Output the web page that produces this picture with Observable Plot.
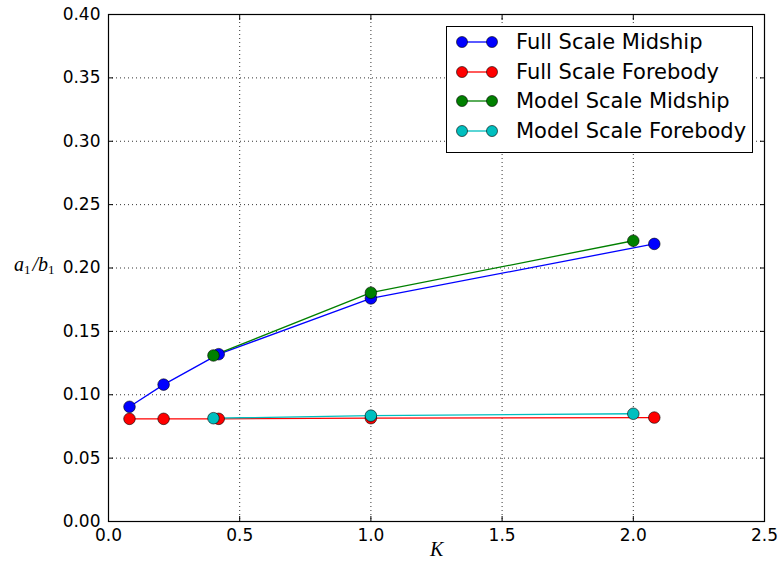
<!DOCTYPE html>
<html>
<head>
<meta charset="utf-8">
<script src="https://cdn.jsdelivr.net/npm/d3@7"></script>
<script src="https://cdn.jsdelivr.net/npm/@observablehq/plot@0.6"></script>
<style>
  html, body { margin: 0; padding: 0; background: white; }
  #wrap { position: relative; width: 781px; height: 567px; }
  .lbl { position: absolute; font-family: "Liberation Serif", "DejaVu Serif", serif; font-style: italic; font-size: 20px; color: black; }
  .lbl sub { font-size: 13px; font-style: normal; vertical-align: -3px; margin-right: 2px; }
  #legend { position: absolute; left: 446px; top: 26px; width: 307px; height: 127px; border: 1.5px solid black; background: white; box-sizing: border-box; }
  .row { position: absolute; left: 0; height: 30px; display: flex; align-items: center; font-family: "DejaVu Sans", sans-serif; font-size: 21px; color: black; }
  .row svg { margin-left: 8px; margin-right: 17px; }
</style>
</head>
<body>
<div id="wrap"></div>
<script>
// ---- data ----
const fsK = [0.08, 0.21, 0.42, 1.0, 2.08];
const fsMid = [0.0905, 0.108, 0.132, 0.176, 0.219];
const fsFore = [0.081, 0.081, 0.081, 0.0815, 0.082];
const msK = [0.40, 1.0, 2.0];
const msMid = [0.131, 0.1805, 0.2215];
const msFore = [0.0815, 0.0835, 0.085];
const seriesNames = ["Full Scale Midship", "Full Scale Forebody", "Model Scale Midship", "Model Scale Forebody"];
const seriesColors = ["#0000ff", "#ff0000", "#008000", "#00bfbf"];
const xTicks = [0, 0.5, 1.0, 1.5, 2.0, 2.5];
const yTicks = [0, 0.05, 0.10, 0.15, 0.20, 0.25, 0.30, 0.35, 0.40];

const rows = [];
fsK.forEach((k, i) => rows.push({s: seriesNames[0], k, v: fsMid[i]}));
fsK.forEach((k, i) => rows.push({s: seriesNames[1], k, v: fsFore[i]}));
msK.forEach((k, i) => rows.push({s: seriesNames[2], k, v: msMid[i]}));
msK.forEach((k, i) => rows.push({s: seriesNames[3], k, v: msFore[i]}));

const chart = Plot.plot({
  width: 781, height: 567,
  marginLeft: 108, marginRight: 17, marginTop: 14, marginBottom: 46,
  x: {domain: [0, 2.5]},
  y: {domain: [0, 0.4]},
  color: {domain: seriesNames, range: seriesColors},
  style: {fontFamily: "DejaVu Sans", fontSize: "17px", color: "black", background: "white", overflow: "visible"},
  marks: [
    Plot.gridX(xTicks, {stroke: "black", strokeOpacity: 0.8, strokeDasharray: "1,3", strokeWidth: 1}),
    Plot.gridY(yTicks, {stroke: "black", strokeOpacity: 0.8, strokeDasharray: "1,3", strokeWidth: 1}),
    Plot.axisX(xTicks, {anchor: "bottom", tickSize: 0, tickPadding: 7, tickFormat: d => d.toFixed(1), label: null}),
    Plot.axisY(yTicks, {anchor: "left", tickSize: 0, tickPadding: 8, tickFormat: d => d.toFixed(2), label: null}),
    Plot.axisX(xTicks, {anchor: "bottom", tickSize: -5, tickFormat: () => "", label: null}),
    Plot.axisX(xTicks, {anchor: "top", tickSize: -5, tickFormat: () => "", label: null}),
    Plot.axisY(yTicks, {anchor: "left", tickSize: -5, tickFormat: () => "", label: null}),
    Plot.axisY(yTicks, {anchor: "right", tickSize: -5, tickFormat: () => "", label: null}),
    Plot.line(rows, {x: "k", y: "v", z: "s", stroke: "s", strokeWidth: 1.3}),
    Plot.dot(rows, {x: "k", y: "v", fill: "s", stroke: "black", strokeWidth: 0.6, r: 5.8}),
    Plot.frame({stroke: "black", strokeWidth: 1.2})
  ]
});
const wrap = document.getElementById("wrap");
wrap.appendChild(chart);

// axis labels
const yl = document.createElement("div");
yl.className = "lbl";
yl.style.left = "14px"; yl.style.top = "253px";
yl.innerHTML = "a<sub>1</sub>/b<sub>1</sub>";
wrap.appendChild(yl);
const xl = document.createElement("div");
xl.className = "lbl";
xl.style.left = "430px"; xl.style.top = "538px";
xl.textContent = "K";
wrap.appendChild(xl);

// legend
const lg = document.createElement("div");
lg.id = "legend";
seriesNames.forEach((name, i) => {
  const r = document.createElement("div");
  r.className = "row";
  r.style.top = (0 + i * 29.5) + "px";
  const c = seriesColors[i];
  r.innerHTML = `<svg width="44" height="14"><line x1="7" y1="7" x2="37" y2="7" stroke="${c}" stroke-width="1.3"/><circle cx="7" cy="7" r="5.5" fill="${c}" stroke="black" stroke-width="0.6"/><circle cx="37" cy="7" r="5.5" fill="${c}" stroke="black" stroke-width="0.6"/></svg><span>${name}</span>`;
  lg.appendChild(r);
});
wrap.appendChild(lg);
</script>
</body>
</html>
